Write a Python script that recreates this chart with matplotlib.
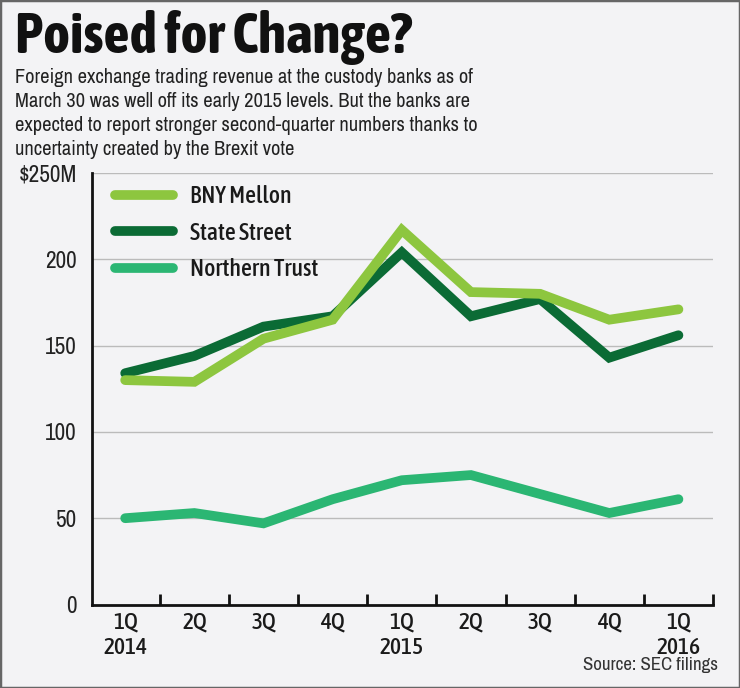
import numpy as np
import matplotlib.pyplot as plt
from matplotlib.patches import Rectangle
from matplotlib import font_manager

# 커스터디 은행 외환 거래 수익 (백만 달러)
quarters = ["1Q\n2014", "2Q", "3Q", "4Q", "1Q\n2015", "2Q", "3Q", "4Q", "1Q\n2016"]
bny_mellon = [130, 129, 154, 165, 217, 181, 180, 165, 171]
state_street = [134, 144, 161, 167, 204, 167, 177, 143, 156]
northern_trust = [50, 53, 47, 61, 72, 75, 64, 53, 61]
y_ticks = [0, 50, 100, 150, 200, 250]
y_labels = ["0", "50", "100", "150", "200", "$250M"]
subtitle = ["Foreign exchange trading revenue at the custody banks as of",
            "March 30 was well off its early 2015 levels. But the banks are",
            "expected to report stronger second-quarter numbers thanks to",
            "uncertainty created by the Brexit vote"]


# 좁은 글꼴 찾기
def weight_num(w):
    if isinstance(w, str):
        return font_manager.weight_dict.get(w, 400)
    return int(w)


def is_narrow(f):
    return "Narrow" in f.name or "Condensed" in f.name


fonts = font_manager.fontManager.ttflist
narrow = [f for f in fonts if is_narrow(f)]
body_family = narrow[0].name if narrow else "Roboto"
bold_fam = [f.name for f in narrow if weight_num(f.weight) >= 700 and f.style == "normal"]
bold_family = bold_fam[0] if bold_fam else "Roboto"
mid = [(f.name, weight_num(f.weight)) for f in narrow
       if 500 <= weight_num(f.weight) <= 650 and f.style == "normal"]
mid_family, mid_weight = mid[0] if mid else (body_family, 400)
plt.rcParams["font.family"] = [body_family, "DejaVu Sans"]

bg = "#f3f3f5"
W, H = 740, 688
fig = plt.figure(figsize=(W / 100, H / 100), dpi=100, facecolor=bg)
renderer = fig.canvas.get_renderer()


def fit_size(s, target_w, weight="normal", fam=None, start=20):
    t = fig.text(0, 0, s, fontsize=start, fontweight=weight,
                 family=[fam or body_family, "DejaVu Sans"])
    w = t.get_window_extent(renderer).width
    t.remove()
    return start * target_w / w


fig.add_artist(Rectangle((0, 0), 1, 1, transform=fig.transFigure, fill=False,
                         edgecolor="#666666", linewidth=2.5))

title_fs = min(fit_size("Poised for Change?", 396, "bold", bold_family), 42)
fig.text(15 / W, 1 - 53 / H, "Poised for Change?", fontsize=title_fs, fontweight="bold",
         family=[bold_family, "DejaVu Sans"], va="baseline", ha="left", color="#111111")

sub_fs = fit_size(subtitle[2], 460)
for i, line in enumerate(subtitle):
    fig.text(15 / W, 1 - (83 + 24 * i) / H, line, fontsize=sub_fs, va="baseline",
             ha="left", color="#222222")

ax = fig.add_axes([92 / W, (H - 604.5) / H, (713 - 92) / W, (604.5 - 173) / H])
ax.set_facecolor(bg)

x = np.arange(len(quarters))
ax.plot(x, northern_trust, color="#2bb673", lw=7, solid_capstyle="round",
        solid_joinstyle="miter", label="Northern Trust")
ax.plot(x, state_street, color="#0b6b35", lw=7, solid_capstyle="round",
        solid_joinstyle="miter", label="State Street")
ax.plot(x, bny_mellon, color="#8dc63f", lw=7, solid_capstyle="round",
        solid_joinstyle="miter", label="BNY Mellon")

ax.set_xlim(-0.48, 8.5)
ax.set_ylim(0, 250)

for v in y_ticks[1:]:
    ax.axhline(v, color="#bbbbbb", lw=1, zorder=0)

tick_fs = fit_size("150", 32)
ax.set_yticks(y_ticks)
ax.set_yticklabels(y_labels, fontsize=tick_fs, color="#222222")
ax.tick_params(axis="y", length=0, pad=11)

xt_fs = fit_size("2014", 44, mid_weight, mid_family)
ax.set_xticks(x)
ax.set_xticklabels(quarters, fontsize=xt_fs, fontweight=mid_weight, color="#1a1a1a",
                   linespacing=1.2, family=[mid_family, "DejaVu Sans"])
ax.tick_params(axis="x", length=0, pad=5)
ax.set_xticks(x + 0.5, minor=True)
ax.tick_params(axis="x", which="minor", direction="in", length=8, width=2, color="#111111")

for s in ["top", "right"]:
    ax.spines[s].set_visible(False)
for s in ["left", "bottom"]:
    ax.spines[s].set_linewidth(2)
    ax.spines[s].set_color("#111111")

leg_fs = fit_size("Northern Trust", 128, mid_weight, mid_family)
fpx = leg_fs * 100 / 72
h, l = ax.get_legend_handles_labels()
order = [2, 1, 0]
leg = ax.legend([h[i] for i in order], [l[i] for i in order], loc="upper left",
                bbox_to_anchor=(23 / 621, 1 - 12 / 431.5), frameon=False,
                prop={"family": [mid_family, "DejaVu Sans"], "weight": mid_weight,
                      "size": leg_fs},
                handlelength=58 / fpx, handletextpad=17 / fpx, labelspacing=(37.5 - fpx) / fpx,
                borderpad=0, borderaxespad=0)
for t in leg.get_texts():
    t.set_color("#1a1a1a")

src_fs = fit_size("Source: SEC filings", 135)
fig.text(718 / W, 1 - 665 / H, "Source: SEC filings", fontsize=src_fs, ha="right",
         va="center", color="#333333")

fig.savefig("out.png", dpi=100, facecolor=bg)
